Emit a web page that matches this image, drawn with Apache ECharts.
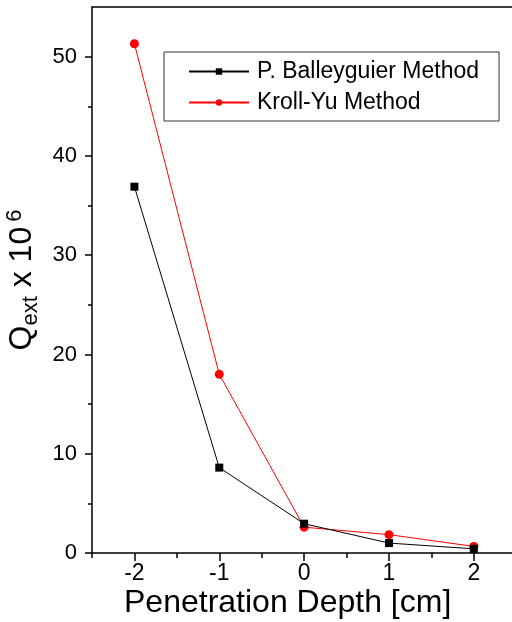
<!DOCTYPE html>
<html>
<head>
<meta charset="utf-8">
<script src="https://cdn.jsdelivr.net/npm/echarts@6/dist/echarts.min.js"></script>
<style>
  html, body { margin: 0; padding: 0; background: #fff; }
  #main { width: 512px; height: 622px; }
</style>
</head>
<body>
<div id="main"></div>
<script>
// depth positions (cm)
var depths = [-2, -1, 0, 1, 2];
// Q_ext x 10^6
var balleyguier = [36.9, 8.6, 2.95, 1.0, 0.42];
var krollYu = [51.3, 18.0, 2.6, 1.85, 0.66];
// tick positions
var xMajor = [-2, -1, 0, 1, 2];
var xMinor = [-2.5, -1.5, -0.5, 0.5, 1.5];
var yMajor = [0, 10, 20, 30, 40, 50];
var yMinor = [5, 15, 25, 35, 45];

var font = 'Liberation Sans, Arial, sans-serif';

var toPairs = function (xs, ys) {
    var out = [];
    xs.forEach(function (x, i) {
        out.push([x, ys[i]]);
    });
    return out;
};

var myChart = echarts.init(document.getElementById('main'));

var axisLine = { show: true, onZero: false, lineStyle: { color: '#000', width: 1.5 } };
var tickStyle = { color: '#000', width: 1.5 };

var options = {
    animation: false,
    backgroundColor: '#fff',
    textStyle: { fontFamily: font },
    grid: { left: 92, right: 0, top: 7, bottom: 69, containLabel: false, outerBoundsMode: 'none' },
    title: {
        text: 'Penetration Depth [cm]',
        left: 119,
        top: 582,
        textStyle: { fontFamily: font, fontSize: 32, fontWeight: 'normal', color: '#000' }
    },
    legend: {
        orient: 'vertical',
        left: 164,
        top: 52,
        itemWidth: 60,
        itemHeight: 8,
        itemGap: 8,
        padding: [8, 20, 7, 24],
        borderColor: '#333',
        borderWidth: 1,
        textStyle: { fontFamily: font, fontSize: 23, color: '#000', padding: [0, 0, 0, 3] },
        data: ['P. Balleyguier Method', 'Kroll-Yu Method']
    },
    xAxis: [
        {
            type: 'value',
            position: 'bottom',
            min: -2.5,
            max: 2.45,
            splitLine: { show: false },
            axisLine: axisLine,
            axisTick: { show: true, customValues: xMajor, length: 8, lineStyle: tickStyle },
            axisLabel: { customValues: xMajor, fontSize: 23, color: '#000', margin: 9, fontFamily: font }
        },
        {
            type: 'value',
            position: 'bottom',
            min: -2.5,
            max: 2.45,
            splitLine: { show: false },
            axisLine: { show: false, onZero: false },
            axisTick: { show: true, customValues: xMinor, length: 5, lineStyle: tickStyle },
            axisLabel: { show: false }
        },
        {
            type: 'value',
            position: 'top',
            min: -2.5,
            max: 2.45,
            splitLine: { show: false },
            axisLine: axisLine,
            axisTick: { show: false },
            axisLabel: { show: false }
        }
    ],
    yAxis: [
        {
            type: 'value',
            position: 'left',
            min: 0,
            max: 55,
            splitLine: { show: false },
            axisLine: axisLine,
            axisTick: { show: true, customValues: yMajor, length: 7, lineStyle: tickStyle },
            axisLabel: { customValues: yMajor, fontSize: 22, color: '#000', margin: 15, fontFamily: font },
            name: '{q|Q}{sub|ext}{q| x 10}{sup|6}',
            nameLocation: 'middle',
            nameRotate: 90,
            nameGap: 50,
            nameTextStyle: {
                rich: {
                    q: { fontSize: 32, fontFamily: font, color: '#000' },
                    sub: { fontSize: 22, fontFamily: font, color: '#000', verticalAlign: 'bottom', padding: [14, 0, 0, 0] },
                    sup: { fontSize: 22, fontFamily: font, color: '#000', verticalAlign: 'top', padding: [0, 0, 16, 5] }
                }
            }
        },
        {
            type: 'value',
            position: 'left',
            min: 0,
            max: 55,
            splitLine: { show: false },
            axisLine: { show: false, onZero: false },
            axisTick: { show: true, customValues: yMinor, length: 4, lineStyle: tickStyle },
            axisLabel: { show: false }
        }
    ],
    series: [
        {
            name: 'P. Balleyguier Method',
            type: 'line',
            data: toPairs(depths, balleyguier),
            symbol: 'rect',
            symbolSize: 8,
            color: '#000',
            lineStyle: { color: '#000', width: 1 },
            itemStyle: { color: '#000' },
            z: 3
        },
        {
            name: 'Kroll-Yu Method',
            type: 'line',
            data: toPairs(depths, krollYu),
            symbol: 'circle',
            symbolSize: 9,
            color: '#ff0000',
            lineStyle: { color: '#ff0000', width: 1 },
            itemStyle: { color: '#ff0000' },
            z: 2
        }
    ]
};

myChart.setOption(options);
</script>
</body>
</html>
